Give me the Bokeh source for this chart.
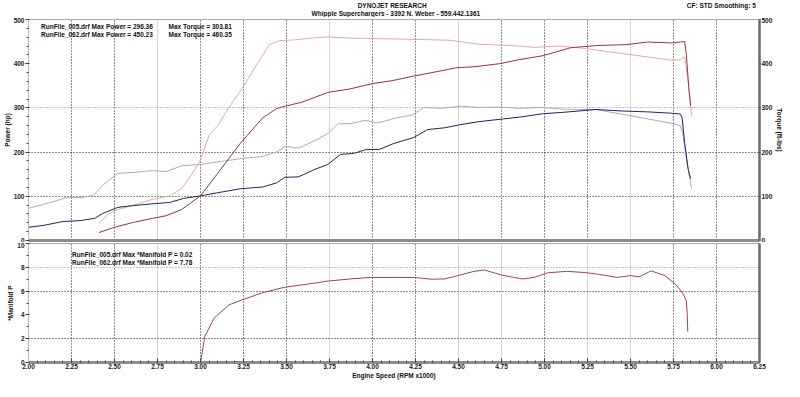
from bokeh.plotting import figure
from bokeh.models import (Range1d, LinearAxis, Grid, FixedTicker, SingleIntervalTicker,
                          Label, Legend, LegendItem, PrintfTickFormatter, Title)
from bokeh.layouts import column
from bokeh.embed import file_html
from bokeh.resources import INLINE

# ---------------- data ----------------
rpm_005_power = [2.00, 2.085, 2.20, 2.30, 2.385, 2.43, 2.52, 2.61, 2.72, 2.82, 2.90, 3.00, 3.10,
                 3.23, 3.36, 3.44, 3.49, 3.57, 3.665, 3.74, 3.815, 3.89, 3.965, 4.04, 4.12, 4.24,
                 4.32, 4.42, 4.51, 4.62, 4.76, 4.87, 4.995, 5.11, 5.30, 5.45, 5.60, 5.74, 5.79,
                 5.80, 5.815, 5.835, 5.85]
hp_005 = [30, 34, 43, 45, 50, 61, 75, 79, 83, 86, 95, 101, 108,
          117, 121, 130, 143, 144, 161, 172, 195, 197, 206, 206, 219, 233,
          251, 255, 262, 269, 275, 280, 287, 290, 296.4, 293, 291, 288, 286,
          278, 220, 162, 140]

rpm_005_torque = [2.00, 2.12, 2.22, 2.31, 2.38, 2.44, 2.52, 2.61, 2.72, 2.80, 2.89, 3.00, 3.14,
                  3.25, 3.36, 3.44, 3.495, 3.57, 3.665, 3.74, 3.80, 3.87, 3.955, 4.03, 4.135,
                  4.23, 4.30, 4.40, 4.51, 4.62, 4.74, 4.85, 4.99, 5.11, 5.30, 5.45, 5.60, 5.74,
                  5.79, 5.805, 5.83, 5.855]
tq_005 = [73, 85, 97, 97, 103, 128, 152, 154, 158, 156, 169, 172, 180,
          186, 190, 200, 213, 209, 226, 242, 264, 264, 272, 266, 277,
          284, 301, 299, 303.8, 301, 302, 299, 301, 297, 296, 286, 275, 265,
          260, 240, 172, 117]

rpm_062_power = [2.41, 2.50, 2.61, 2.72, 2.80, 2.89, 3.00, 3.10, 3.23, 3.36, 3.44, 3.495, 3.59,
                 3.74, 3.87, 4.00, 4.12, 4.24, 4.40, 4.49, 4.59, 4.74, 4.85, 4.99, 5.15, 5.30,
                 5.47, 5.60, 5.74, 5.79, 5.815, 5.825, 5.84, 5.85]
hp_062 = [18, 30, 41, 50, 56, 70, 101, 152, 219, 277, 298, 304, 313,
          335, 343, 355, 362, 372, 384, 391, 393, 400, 409, 418, 436, 441,
          443, 449, 447, 449, 450.2, 420, 340, 305]

rpm_062_torque = [2.41, 2.46, 2.52, 2.61, 2.72, 2.82, 2.89, 2.95, 3.00, 3.05, 3.10, 3.16, 3.25,
                  3.33, 3.40, 3.46, 3.55, 3.65, 3.74, 3.87, 4.00, 4.12, 4.25, 4.45, 4.62, 4.81,
                  4.94, 5.09, 5.245, 5.49, 5.74, 5.79, 5.815, 5.835, 5.855]
tq_062 = [39, 59, 70, 80, 93, 101, 117, 150, 182, 238, 260, 298, 349,
          400, 443, 452, 454, 458, 460.4, 458, 457, 456, 455, 453, 444, 441,
          437, 440, 434, 421, 408, 409, 416, 360, 282]

rpm_062_boost = [3.00, 3.025, 3.08, 3.165, 3.24, 3.36, 3.49, 3.62, 3.74, 3.87, 3.99, 4.12, 4.245,
                 4.34, 4.42, 4.49, 4.59, 4.65, 4.75, 4.87, 4.94, 5.02, 5.13, 5.235, 5.32, 5.42,
                 5.50, 5.55, 5.62, 5.70, 5.76, 5.80, 5.825, 5.83, 5.833]
boost_062 = [0.0, 2.2, 3.75, 4.84, 5.25, 5.86, 6.33, 6.58, 6.84, 7.02, 7.15, 7.15, 7.15,
             7.0, 7.02, 7.28, 7.66, 7.78, 7.35, 7.02, 7.15, 7.54, 7.66, 7.56, 7.4, 7.15,
             7.3, 7.2, 7.7, 7.3, 6.6, 5.9, 5.2, 4.0, 2.6]

rpm_005_boost = [2.00, 3.00, 4.00, 5.00, 5.85]
boost_005 = [0.0, 0.0, 0.02, 0.0, 0.0]

legend_top = ["RunFile_005.drf Max Power = 296.36", "RunFile_062.drf Max Power = 450.23"]
legend_top_tq = ["Max Torque = 303.81", "Max Torque = 460.35"]
legend_bot = ["RunFile_005.drf Max *Manifold P = 0.02", "RunFile_062.drf Max *Manifold P = 7.78"]

grid_dotted_x = [2.25, 2.5, 3.0, 3.25, 3.5, 4.0, 4.25, 4.75, 5.0, 5.25, 5.75, 6.0]
grid_light_x = [2.75, 3.75, 4.5, 5.5]
grid_dotted_x_bot = [2.25, 2.5, 3.0, 3.25, 3.5, 4.0, 4.25, 5.0, 5.75, 6.0]
grid_light_x_bot = [2.75, 3.75, 4.5, 4.75, 5.25, 5.5]

# ---------------- styling ----------------
FONT = "Liberation Sans"
FS = "6.5px"
W = 784
BL, BR = 27, 20
HDR_H = 17
TOP_H, TOP_BT, TOP_BB = 225, 2, 2
BOT_H, BOT_BT, BOT_BB = 139, 1, 16
TOP_FH = TOP_H - TOP_BT - TOP_BB
BOT_FH = BOT_H - BOT_BT - BOT_BB

C_005_HP = "#22235e"
C_005_TQ = "#a9a9cf"
C_062_HP = "#923838"
C_062_TQ = "#e6a8a8"
C_062_MP = "#a04848"


def style_axis(ax, label=None, hidden=False):
    ax.major_label_text_font = FONT
    ax.major_label_text_font_size = FS
    ax.major_label_text_font_style = "bold"
    ax.major_label_text_color = None if hidden else "#1a1a1a"
    ax.major_tick_line_color = "#404040"
    ax.minor_tick_line_color = "#404040"
    if label is not None:
        ax.axis_label = label
        ax.axis_label_text_font = FONT
        ax.axis_label_text_font_size = FS
        ax.axis_label_text_font_style = "bold"
        ax.axis_label_text_color = None if hidden else "#111111"
        ax.axis_label_standoff = 0


def add_grids(p, dotted_x, light_x, dark_y, gray_y):
    p.xgrid.visible = False
    p.ygrid.visible = False
    p.add_layout(Grid(dimension=0, ticker=FixedTicker(ticks=light_x),
                      grid_line_color="#d6d6d6", grid_line_width=1))
    p.add_layout(Grid(dimension=0, ticker=FixedTicker(ticks=dotted_x),
                      grid_line_color="#1e1e1e", grid_line_dash="1 2", grid_line_width=1))
    p.add_layout(Grid(dimension=1, ticker=FixedTicker(ticks=dark_y),
                      grid_line_color="#1e1e1e", grid_line_dash="1 2", grid_line_width=1))
    p.add_layout(Grid(dimension=1, ticker=FixedTicker(ticks=gray_y),
                      grid_line_color="#8a8a8a", grid_line_dash="1 2", grid_line_width=1))


def txt(p, x, y, text, align="left", units="data", size=FS):
    p.add_layout(Label(x=x, y=y, x_units=units, y_units=units, text=text,
                       text_font=FONT, text_font_size=size, text_font_style="bold",
                       text_color="#111111", text_align=align, text_baseline="middle"))


def small_legend(p, items, loc):
    rends = []
    for fill, line in (("#2d4cb0", "#15205a"), ("#b83c3c", "#5a1515")):
        rends.append(p.quad(left=[], right=[], top=[], bottom=[], fill_color=fill, line_color=line))
    leg = Legend(items=[LegendItem(label=t, renderers=[r]) for t, r in zip(items, rends)],
                 location=loc, orientation="vertical",
                 padding=0, spacing=1, margin=0, label_standoff=2,
                 glyph_width=6, glyph_height=6, label_height=7, label_width=10,
                 label_text_font=FONT, label_text_font_size=FS, label_text_font_style="bold",
                 label_text_color="#111111", background_fill_alpha=0, border_line_color=None)
    p.add_layout(leg)


def right_axis(p, hidden, range_name="default"):
    ax = LinearAxis(y_range_name=range_name,
                    ticker=SingleIntervalTicker(interval=100 if not hidden else 2, num_minor_ticks=0))
    style_axis(ax, None, hidden=hidden)
    if hidden:
        ax.major_label_overrides = {v: "500" for v in range(0, 11, 2)}
    ax.axis_line_width = 2.5
    ax.axis_line_color = "#6a6a6a"
    ax.major_tick_out = 1
    ax.major_tick_in = 0
    ax.major_tick_line_color = None if hidden else "#404040"
    ax.major_label_standoff = 1
    p.add_layout(ax, "right")
    p.add_layout(Title(text="Torque (ft-lbs)", align="center", standoff=0, offset=0,
                       text_font=FONT, text_font_size=FS, text_font_style="bold",
                       text_color=None if hidden else "#111111"), "right")


# ---------------- header strip ----------------
p0 = figure(width=W, height=HDR_H, x_range=Range1d(0, W), y_range=Range1d(0, HDR_H),
            x_axis_type=None, y_axis_type=None, output_backend="svg", toolbar_location=None,
            min_border_left=0, min_border_right=0, min_border_top=0, min_border_bottom=0,
            background_fill_color="white", border_fill_color="white")
p0.outline_line_color = None
p0.xgrid.visible = False
p0.ygrid.visible = False
txt(p0, 390, 12, "DYNOJET RESEARCH", align="center")
txt(p0, 394, 4, "Whipple Superchargers - 3392 N. Weber - 559.442.1361", align="center")
txt(p0, W - 2, 12, "CF: STD  Smoothing: 5", align="right")

# ---------------- top figure: power / torque ----------------
p1 = figure(width=W, height=TOP_H, x_range=Range1d(2.0, 6.25), y_range=Range1d(0, 500),
            output_backend="svg", toolbar_location=None,
            min_border_left=BL, min_border_right=BR, min_border_top=TOP_BT, min_border_bottom=TOP_BB,
            background_fill_color="white", border_fill_color="white")
p1.outline_line_color = "#a8a8a8"
p1.extra_y_ranges = {"tq": Range1d(0, 500)}
add_grids(p1, grid_dotted_x, grid_light_x, [100, 200], [300])

xa = p1.xaxis[0]
xa.ticker = FixedTicker(ticks=[])
xa.axis_line_width = 3
xa.axis_line_color = "#8c8c8c"
xa.major_tick_out = 0
xa.major_tick_in = 0
xa.minor_tick_out = 0
xa.major_label_standoff = 0

ya = p1.yaxis[0]
ya.ticker = SingleIntervalTicker(interval=100, num_minor_ticks=5)
style_axis(ya, "Power (hp)")
ya.axis_line_color = "#b8b8b8"
ya.major_tick_out = 3
ya.major_tick_in = 1
ya.minor_tick_out = 2
ya.minor_tick_in = 0
ya.major_label_standoff = 1

right_axis(p1, hidden=False, range_name="tq")

p1.line(rpm_005_torque, tq_005, line_color=C_005_TQ, line_width=1)
p1.line(rpm_062_torque, tq_062, line_color=C_062_TQ, line_width=1)
p1.line(rpm_005_power, hp_005, line_color=C_005_HP, line_width=1)
p1.line(rpm_062_power, hp_062, line_color=C_062_HP, line_width=1)

small_legend(p1, legend_top, (5, TOP_FH - 3 - 16))
txt(p1, 140, TOP_FH - 7, legend_top_tq[0], units="screen")
txt(p1, 140, TOP_FH - 15, legend_top_tq[1], units="screen")

# ---------------- bottom figure: manifold pressure ----------------
p2 = figure(width=W, height=BOT_H, x_range=p1.x_range, y_range=Range1d(0, 10),
            output_backend="svg", toolbar_location=None,
            min_border_left=BL, min_border_right=BR, min_border_top=BOT_BT, min_border_bottom=BOT_BB,
            background_fill_color="white", border_fill_color="white")
p2.outline_line_color = "#a8a8a8"
add_grids(p2, grid_dotted_x_bot, grid_light_x_bot, [2, 6], [8])

bx = p2.xaxis[0]
bx.ticker = SingleIntervalTicker(interval=0.25, num_minor_ticks=5)
bx.formatter = PrintfTickFormatter(format="%.2f")
style_axis(bx, "Engine Speed (RPM x1000)")
bx.axis_line_width = 3
bx.axis_line_color = "#8c8c8c"
bx.major_tick_in = 4
bx.major_tick_out = 0
bx.minor_tick_in = 2
bx.minor_tick_out = 0
bx.major_label_standoff = 1

by = p2.yaxis[0]
by.ticker = SingleIntervalTicker(interval=2, num_minor_ticks=2)
style_axis(by, "*Manifold P")
by.axis_line_color = "#b8b8b8"
by.major_tick_out = 3
by.major_tick_in = 1
by.minor_tick_out = 2
by.minor_tick_in = 0
by.major_label_standoff = 1

right_axis(p2, hidden=True)

p2.line(rpm_005_boost, boost_005, line_color=C_005_HP, line_width=1)
p2.line(rpm_062_boost, boost_062, line_color=C_062_MP, line_width=1)

small_legend(p2, legend_bot, (36, BOT_FH - 10 - 16))

layout = column(p0, p1, p2, spacing=0)
open("out.html", "w").write(file_html(layout, INLINE))
